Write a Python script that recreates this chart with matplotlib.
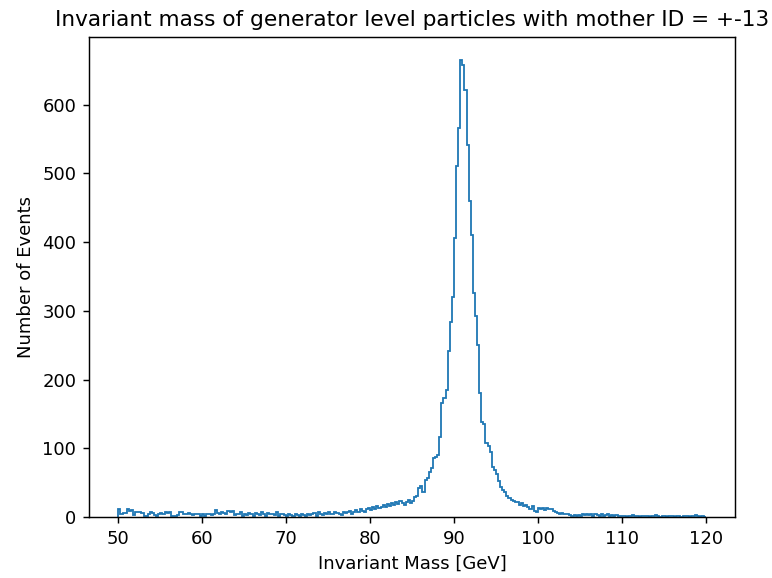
import numpy as np
import matplotlib
matplotlib.use("Agg")
import matplotlib.pyplot as plt

# histogram bins: 280 bins of 0.25 GeV between 50 and 120 GeV
mass_min, mass_max, n_bins = 50.0, 120.0, 280
edges = np.linspace(mass_min, mass_max, n_bins + 1)

# counts per bin (10 bins per row)
counts = [
    12, 4, 6, 6, 11, 9, 10, 3, 7, 8,          # 50.0 - 52.5
    7, 6, 2, 1, 5, 7, 6, 3, 2, 4,             # 52.5 - 55.0
    6, 5, 7, 6, 8, 2, 1, 1, 3, 8,             # 55.0 - 57.5
    7, 5, 4, 6, 5, 3, 5, 4, 5, 1,             # 57.5 - 60.0
    4, 2, 5, 4, 3, 5, 10, 6, 5, 7,            # 60.0 - 62.5
    6, 4, 9, 8, 9, 3, 5, 4, 7, 2,             # 62.5 - 65.0
    5, 3, 6, 4, 2, 6, 5, 3, 8, 4,             # 65.0 - 67.5
    2, 6, 4, 5, 3, 7, 2, 5, 4, 3,             # 67.5 - 70.0
    2, 4, 3, 1, 5, 3, 2, 4, 3, 2,             # 70.0 - 72.5
    4, 3, 5, 6, 2, 7, 4, 3, 6, 5,             # 72.5 - 75.0
    7, 4, 5, 8, 6, 5, 3, 8, 6, 7,             # 75.0 - 77.5
    9, 5, 8, 10, 7, 12, 9, 8, 11, 13,         # 77.5 - 80.0
    10, 14, 12, 16, 13, 15, 17, 14, 19, 16,   # 80.0 - 82.5
    20, 18, 22, 19, 23, 21, 17, 22, 25, 21,   # 82.5 - 85.0
    24, 29, 30, 42, 45, 36, 54, 57, 66, 72,   # 85.0 - 87.5
    86, 88, 90, 117, 166, 173, 185, 241, 284, 320,   # 87.5 - 90.0
    406, 510, 566, 665, 658, 621, 541, 459, 410, 326,  # 90.0 - 92.5
    293, 250, 180, 138, 135, 108, 104, 95, 73, 68,   # 92.5 - 95.0
    63, 52, 44, 40, 36, 30, 28, 25, 23, 22,   # 95.0 - 97.5
    22, 18, 20, 16, 18, 15, 12, 16, 9, 7,     # 97.5 - 100.0
    13, 12, 13, 10, 13, 11, 12, 9, 7, 6,      # 100.0 - 102.5
    5, 6, 5, 4, 5, 3, 2, 3, 2, 3,             # 102.5 - 105.0
    2, 4, 3, 5, 3, 4, 2, 5, 3, 2,             # 105.0 - 107.5
    4, 2, 3, 4, 1, 3, 2, 3, 1, 2,             # 107.5 - 110.0
    1, 2, 0, 2, 1, 3, 1, 2, 0, 1,             # 110.0 - 112.5
    2, 1, 1, 0, 2, 1, 3, 1, 0, 1,             # 112.5 - 115.0
    1, 0, 2, 1, 1, 0, 1, 2, 0, 1,             # 115.0 - 117.5
    2, 1, 0, 1, 2, 3, 1, 0, 1, 0,             # 117.5 - 120.0
]
counts = np.array(counts, dtype=float)

fig = plt.figure(figsize=(772 / 130, 578 / 130), dpi=130)
ax = fig.add_axes([89 / 772, 61 / 578, 646 / 772, 480 / 578])

ax.hist(edges[:-1], bins=edges, weights=counts, histtype="step", color="C0")

ax.set_xticks(np.arange(50, 121, 10))
ax.set_yticks(np.arange(0, 601, 100))
ax.set_title("Invariant mass of generator level particles with mother ID = +-13")
ax.set_xlabel("Invariant Mass [GeV]")
ax.set_ylabel("Number of Events")

fig.savefig("out.png", dpi=130)
